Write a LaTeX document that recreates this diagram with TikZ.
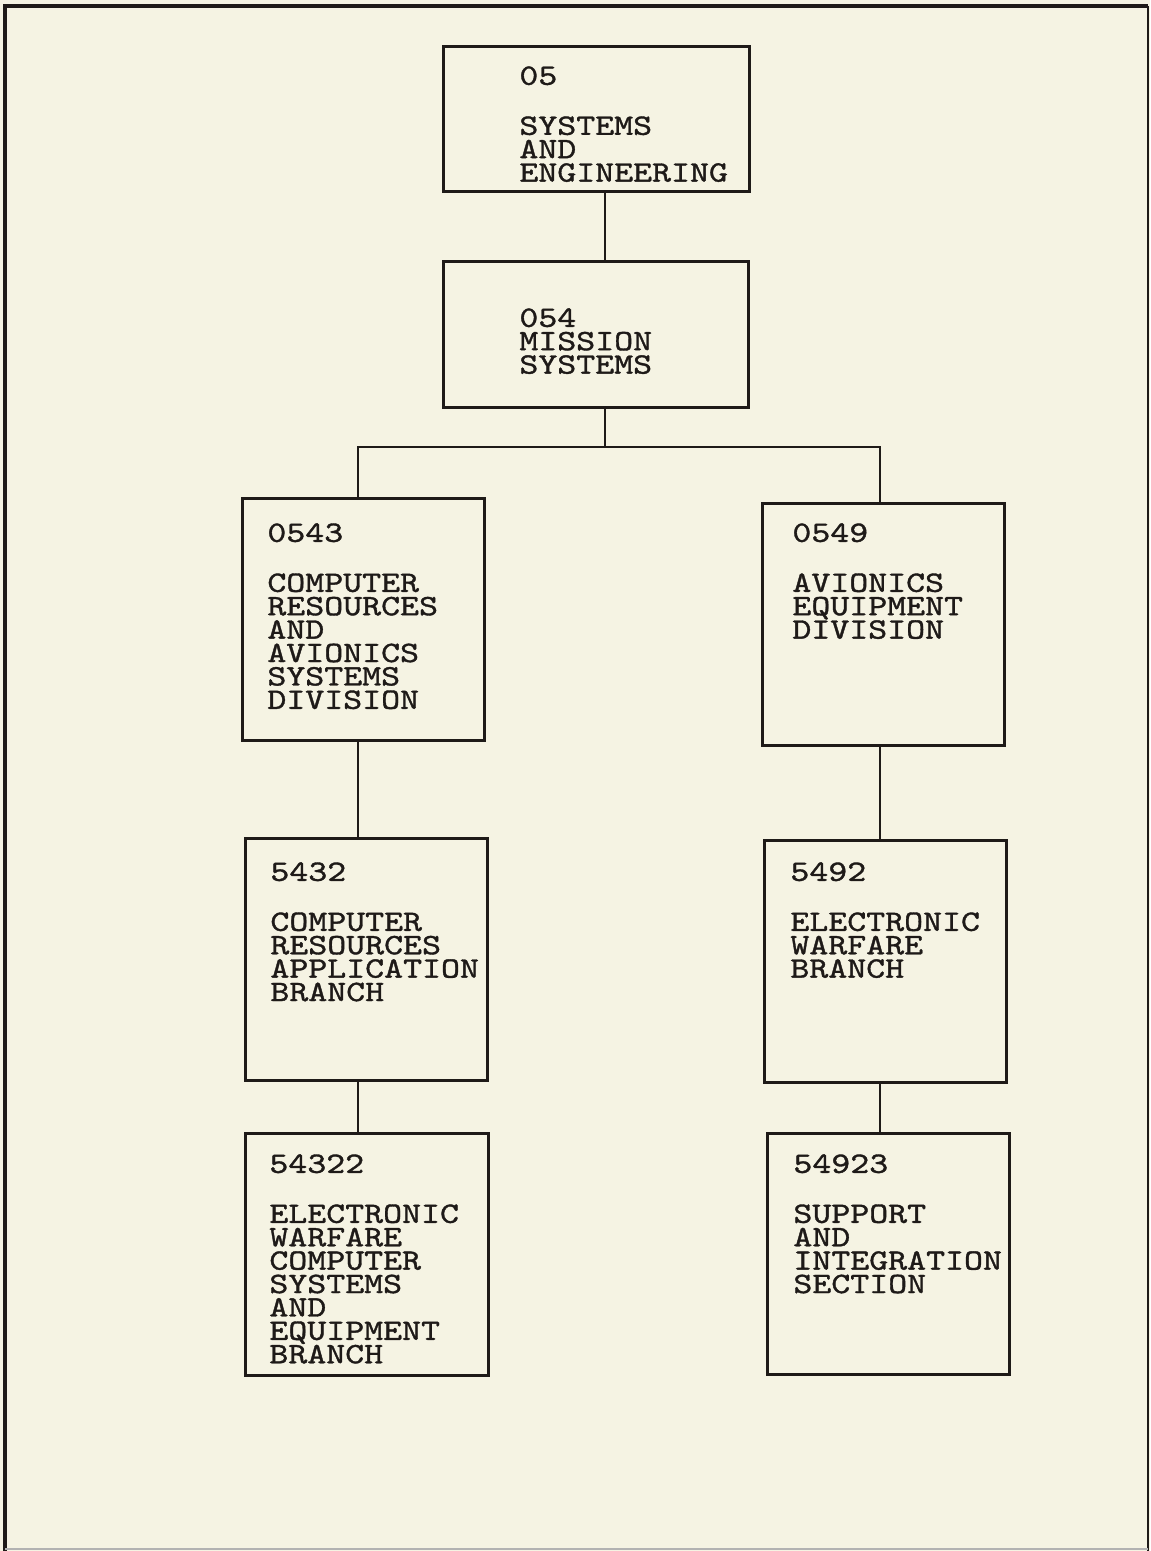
\documentclass[tikz,border=0pt]{standalone}
\usepackage{fontspec}
\newfontfamily\tw{lmmono10-regular.otf}[FakeStretch=1.22,FakeBold=1.2]
\usetikzlibrary{fit}
\definecolor{paper}{RGB}{245,243,227}
\definecolor{ink}{RGB}{30,26,24}
\begin{document}
\begin{tikzpicture}[x=0.5pt,y=-0.5pt,
  box/.style={draw=ink, line width=1.5pt, inner sep=0pt},
  lbl/.style={anchor=north west, inner sep=0pt, align=left, text=ink,
    font=\tw\fontsize{14.8pt}{11.7pt}\selectfont},
  conn/.style={draw=ink, line width=1.4pt}]
\fill[paper] (0,0) rectangle (1150,1551);
\useasboundingbox (0,0) rectangle (1150,1551);
% page frame
\draw[ink, line width=1.6pt] (5,1551) -- (5,6) -- (1148,6);
\draw[ink, line width=0.9pt] (1148,6) -- (1148,1551);
\draw[black!30, line width=0.8pt] (5,1549) -- (1148,1549);

% boxes
\node[box, fit={(443,47) (749,192)}] (b05) {};
\node[box, fit={(443,262) (748,407)}] (b054) {};
\node[box, fit={(242,498) (484,740)}] (b0543) {};
\node[box, fit={(762,503) (1004,745)}] (b0549) {};
\node[box, fit={(245,838) (487,1080)}] (b5432) {};
\node[box, fit={(764,840) (1006,1082)}] (b5492) {};
\node[box, fit={(245,1133) (488,1375)}] (b54322) {};
\node[box, fit={(767,1133) (1009,1374)}] (b54923) {};

% texts
\node[lbl] (t05) at (519,66) {05\\[13.3pt]SYSTEMS\\AND\\ENGINEERING};
\node[lbl] (t054) at (519,308) {054\\MISSION\\SYSTEMS};
\node[lbl] (t0543) at (267,523) {0543\\[13.3pt]COMPUTER\\RESOURCES\\AND\\AVIONICS\\SYSTEMS\\DIVISION};
\node[lbl] (t0549) at (792,523) {0549\\[13.3pt]AVIONICS\\EQUIPMENT\\DIVISION};
\node[lbl] (t5432) at (270,862) {5432\\[13.3pt]COMPUTER\\RESOURCES\\APPLICATION\\BRANCH};
\node[lbl] (t5492) at (790,862) {5492\\[13.3pt]ELECTRONIC\\WARFARE\\BRANCH};
\node[lbl] (t54322) at (269,1154) {54322\\[13.3pt]ELECTRONIC\\WARFARE\\COMPUTER\\SYSTEMS\\AND\\EQUIPMENT\\BRANCH};
\node[lbl] (t54923) at (793,1154) {54923\\[13.3pt]SUPPORT\\AND\\INTEGRATION\\SECTION};

% connectors
\coordinate (mx) at (605,0);
\coordinate (barL) at (358,447);
\coordinate (barR) at (880,447);
\draw[conn] (mx |- b05.south) -- (mx |- b054.north);
\draw[conn] (mx |- b054.south) -- (mx |- barL);
\draw[conn] (barL |- b0543.north) -- (barL) -- (barR) -- (barR |- b0549.north);
\draw[conn] (barL |- b0543.south) -- (barL |- b5432.north);
\draw[conn] (barL |- b5432.south) -- (barL |- b54322.north);
\draw[conn] (barR |- b0549.south) -- (barR |- b5492.north);
\draw[conn] (barR |- b5492.south) -- (barR |- b54923.north);
\end{tikzpicture}
\end{document}
